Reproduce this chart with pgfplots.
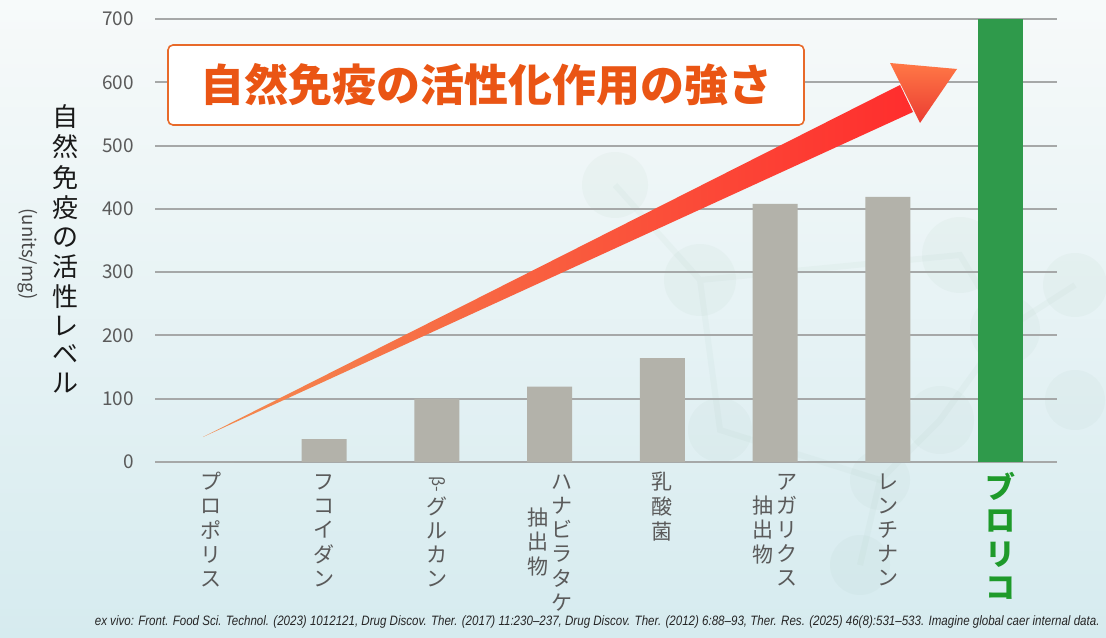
\documentclass[border=0pt]{standalone}
\usepackage{fontspec}
\setmainfont{Noto Sans CJK JP}
\newfontfamily\footfont{Liberation Sans}[FakeStretch=0.85]
\usepackage{pgfplots}
\pgfplotsset{compat=1.18}
\usetikzlibrary{shadings}
\definecolor{bgtop}{HTML}{F7FAFA}
\definecolor{bgbot}{HTML}{D6EBEF}
\definecolor{bargray}{HTML}{B3B2AA}
\definecolor{bargreen}{HTML}{2F9A4B}
\definecolor{labgreen}{HTML}{1E9A2A}
\definecolor{gridgray}{HTML}{A6A8A8}
\definecolor{txtgray}{HTML}{5A5A5A}
\definecolor{titleor}{HTML}{EA5514}
\definecolor{boxor}{HTML}{E86A2A}
\definecolor{molec}{HTML}{9DBFAE}
\newcommand{\vc}[1]{\begin{tabular}[c]{@{}c@{}}#1\end{tabular}}
\begin{document}
\begin{tikzpicture}
\path[use as bounding box] (0,0) rectangle (553pt,318.5pt);
\shade[top color=bgtop,bottom color=bgbot] (0,0) rectangle (553pt,318.5pt);
\begin{scope}[x=0.5pt,y=-0.5pt,shift={(0pt,318.5pt)}]
 \begin{scope}[opacity=0.07]
  \draw[molec,line width=3pt] (615,185)--(700,280)--(720,430)--(880,480)--(940,420)--(1005,330)--(960,255)--(700,280);
  \draw[molec,line width=3pt] (1005,330)--(1075,285);
  \draw[molec,line width=3pt] (880,480)--(860,565);
  \fill[molec] (615,185) circle (33);
  \fill[molec] (700,280) circle (36);
  \fill[molec] (720,430) circle (32);
  \fill[molec] (960,255) circle (38);
  \fill[molec] (1005,330) circle (35);
  \fill[molec] (1075,285) circle (32);
  \fill[molec] (940,420) circle (34);
  \fill[molec] (880,480) circle (30);
  \fill[molec] (860,565) circle (30);
  \fill[molec] (1075,400) circle (30);
 \end{scope}
\end{scope}
\begin{axis}[
  scale only axis,
  width=451pt, height=221.5pt,
  at={(77.5pt,87.5pt)}, anchor=south west,
  xmin=-0.5, xmax=7.5, ymin=0, ymax=700,
  axis line style={draw=none},
  major tick length=0pt,
  ytick={0,100,...,700},
  ymajorgrids, grid style={gridgray,line width=1pt},
  xtick={0,...,7},
  xticklabels={
    {\vc{プ\\ロ\\ポ\\リ\\ス}},
    {\vc{フ\\コ\\イ\\ダ\\ン}},
    {\vc{\rotatebox[origin=c]{-90}{\footnotesize β-}\\グ\\ル\\カ\\ン}},
    {\vc{抽\\出\\物}\hspace{1.5pt}\vc{ハ\\ナ\\ビ\\ラ\\タ\\ケ}},
    {\vc{乳\\酸\\菌}},
    {\vc{抽\\出\\物}\hspace{1.5pt}\vc{ア\\ガ\\リ\\ク\\ス}},
    {\vc{レ\\ン\\チ\\ナ\\ン}},
    {\fontsize{15pt}{16.5pt}\selectfont\bfseries\color{labgreen}\vc{ブ\\ロ\\リ\\コ}}
  },
  xticklabel style={anchor=north, yshift=-5pt, inner sep=0pt, text=txtgray, font=\fontsize{10.5pt}{12pt}\selectfont},
  yticklabel style={anchor=east, xshift=-7pt, text=txtgray, font=\fontsize{9.5pt}{11pt}\selectfont},
  /pgf/number format/assume math mode=true,
  bar width=0.4,
  clip=true,
]
\addplot[ybar, bar shift=0pt, fill=bargray, draw=none] coordinates {
 (0,0) (1,36) (2,100) (3,119) (4,164) (5,408) (6,419)};
\addplot[ybar, bar shift=0pt, fill=bargreen, draw=none] coordinates {(7,700)};
\end{axis}
\begin{scope}[x=0.5pt,y=-0.5pt,shift={(0pt,318.5pt)}]
 % arrow shaft
 \shade[left color={rgb,255:red,243;green,140;blue,80}, right color={rgb,255:red,255;green,45;blue,45}]
   (203,437) -- (900,85) -- (913,112) -- cycle;
 % arrow head
 \shade[top color={rgb,255:red,255;green,120;blue,70}, bottom color={rgb,255:red,235;green,60;blue,50}]
   (890,63) -- (957,69) -- (920,123) -- cycle;
 % title box
 \draw[boxor, line width=0.8pt, fill=white, rounded corners=2.5pt] (168,45) rectangle (804,125);
 \node[text=titleor, font=\fontsize{22pt}{24pt}\selectfont\bfseries] at (486,85) {自然免疫の活性化作用の強さ};
 % y label
 \node[text=black!90, font=\fontsize{13pt}{14.25pt}\selectfont, inner sep=0pt] at (65,252.5) {\vc{自\\然\\免\\疫\\の\\活\\性\\レ\\ベ\\ル}};
 \node[text=txtgray!80!black, font=\fontsize{9.3pt}{10pt}\selectfont, rotate=-90, inner sep=0pt] at (28,254) {(units/mg)};
 % footnote
 \node[anchor=east, inner sep=0pt, text=black!85, font=\footfont\itshape\fontsize{6.8pt}{7.5pt}\selectfont] at (1100,622) {ex vivo: Front. Food Sci. Technol. (2023) 1012121, Drug Discov. Ther. (2017) 11:230–237, Drug Discov. Ther. (2012) 6:88–93, Ther. Res. (2025) 46(8):531–533. Imagine global caer internal data.};
\end{scope}
\end{tikzpicture}
\end{document}
